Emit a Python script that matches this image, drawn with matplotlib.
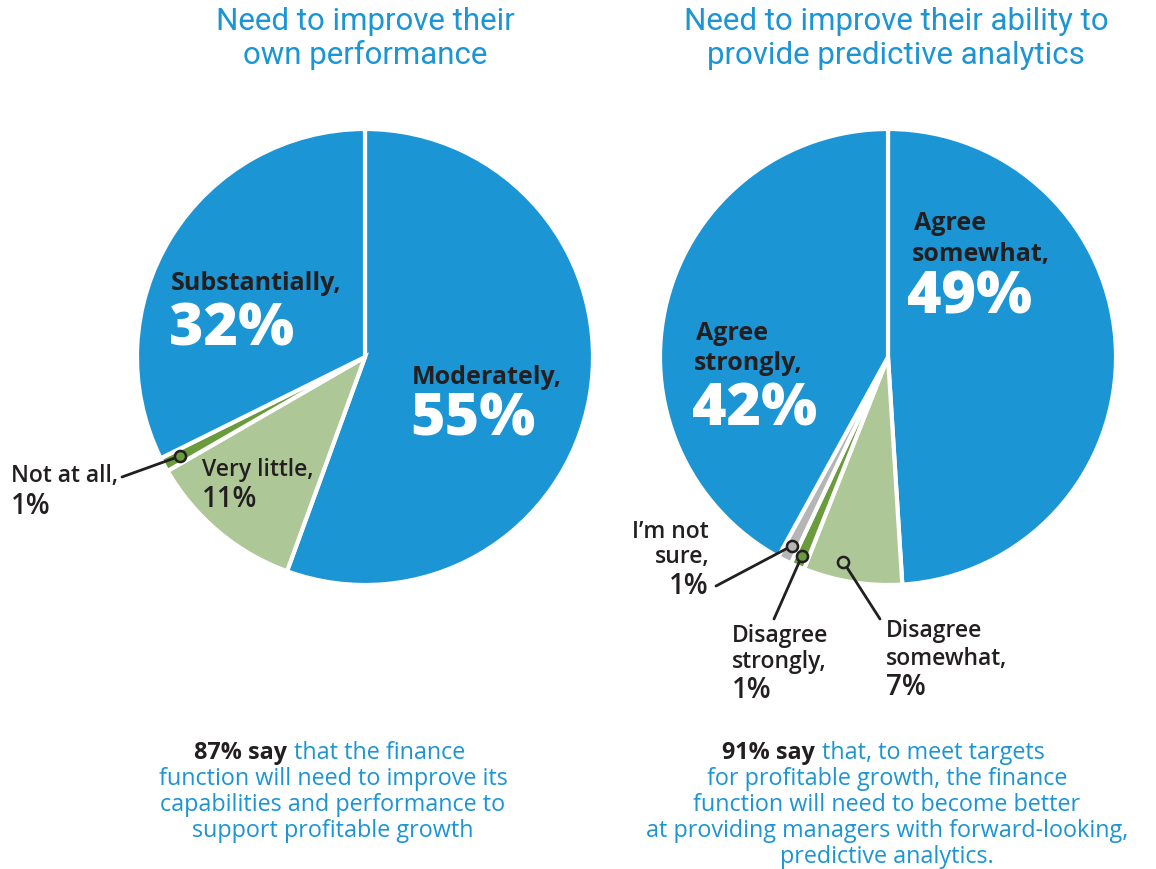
import numpy as np
import matplotlib
matplotlib.use('Agg')
from matplotlib import pyplot as plt

# --- data ---
left_labels = ['Moderately', 'Very little', 'Not at all', 'Substantially']
left_values = [55, 11, 1, 32]
right_labels = ['Agree somewhat', 'Disagree somewhat', 'Disagree strongly', "I'm not sure", 'Agree strongly']
right_values = [49, 7, 1, 1, 42]

BLUE = '#1b95d3'
LGREEN = '#aec797'
DGREEN = '#6a9b3c'
GREY = '#b5b5b5'
DARK = '#231f20'
left_colors = [BLUE, LGREEN, DGREEN, BLUE]
right_colors = [BLUE, LGREEN, DGREEN, GREY, BLUE]

W, H = 1156, 870
plt.rcParams['font.family'] = ['Open Sans', 'DejaVu Sans']
fig = plt.figure(figsize=(W / 100, H / 100), dpi=100)
fig.patch.set_facecolor('white')


def fp(x, y):
    return x / W, 1 - y / H


def pie_axes(cx, cy, r):
    return fig.add_axes([(cx - r) / W, (H - cy - r) / H, 2 * r / W, 2 * r / H])


def txt(x, y, s, size, color=DARK, weight='bold', ha='left', family=None):
    kw = {}
    if family:
        kw['family'] = family
    fig.text(*fp(x, y), s, fontsize=size, color=color, fontweight=weight,
             ha=ha, va='center', **kw)


def callout(ax, wedge, frac, tx, ty, color, t=0.5):
    # t: position across the wedge angle, frac: fraction of radius
    ang = np.deg2rad(wedge.theta1 + t * (wedge.theta2 - wedge.theta1))
    px, py = frac * np.cos(ang), frac * np.sin(ang)
    ax.annotate('', xy=(px, py), xytext=(tx, H - ty), textcoords='figure pixels',
                arrowprops=dict(arrowstyle='-', lw=2, color=DARK, shrinkA=0, shrinkB=4),
                annotation_clip=False)
    ax.plot(px, py, 'o', ms=8, mfc=color, mec=DARK, mew=1.8, clip_on=False, zorder=5)


axl = pie_axes(365, 358, 228)
wl, _ = axl.pie(left_values, colors=left_colors, startangle=90, counterclock=False,
                radius=1, wedgeprops=dict(edgecolor='white', linewidth=3))
axr = pie_axes(888, 358, 228)
wr, _ = axr.pie(right_values, colors=right_colors, startangle=90, counterclock=False,
                radius=1, wedgeprops=dict(edgecolor='white', linewidth=3))
for ax in (axl, axr):
    ax.set_xlim(-1, 1)
    ax.set_ylim(-1, 1)
    ax.axis('off')

# titles
tfam = ['Roboto', 'DejaVu Sans']
txt(365, 22, 'Need to improve their', 22.5, BLUE, 'normal', 'center', tfam)
txt(365, 55, 'own performance', 22.5, BLUE, 'normal', 'center', tfam)
txt(896, 22, 'Need to improve their ability to', 22.5, BLUE, 'normal', 'center', tfam)
txt(896, 55, 'provide predictive analytics', 22.5, BLUE, 'normal', 'center', tfam)

# left pie labels
txt(171, 284, 'Substantially,', 18)
txt(169, 330, '32%', 42.5, 'white', 'heavy')
txt(412, 378, 'Moderately,', 18)
txt(410, 420, '55%', 42.5, 'white', 'heavy')
txt(202, 470, 'Very little,', 16.5, weight='semibold')
txt(202, 500, '11%', 20, weight='semibold')
txt(11, 476, 'Not at all,', 16.5, weight='semibold')
txt(11, 506, '1%', 20, weight='semibold')
callout(axl, wl[2], 0.92, 122, 478, DGREEN)

# right pie labels
txt(914, 224, 'Agree', 18)
txt(912, 255, 'somewhat,', 18)
txt(907, 298, '49%', 42.5, 'white', 'heavy')
txt(696, 334, 'Agree', 18)
txt(694, 364, 'strongly,', 18)
txt(692, 410, '42%', 42.5, 'white', 'heavy')
txt(709, 532, 'I\u2019m not', 16.5, weight='semibold', ha='right')
txt(709, 557, 'sure,', 16.5, weight='semibold', ha='right')
txt(709, 587, '1%', 20, weight='semibold', ha='right')
txt(732, 636, 'Disagree', 16.5, weight='semibold')
txt(732, 662, 'strongly,', 16.5, weight='semibold')
txt(732, 690, '1%', 20, weight='semibold')
txt(886, 631, 'Disagree', 16.5, weight='semibold')
txt(886, 659, 'somewhat,', 16.5, weight='semibold')
txt(886, 688, '7%', 20, weight='semibold')
callout(axr, wr[3], 0.93, 716, 587, GREY)
callout(axr, wr[2], 0.95, 774, 620, DGREEN)
callout(axr, wr[1], 0.92, 880, 620, LGREEN, t=0.37)

# bottom notes
FS = 16.8
txt(287, 753, '87% say', FS, ha='right')
txt(294, 753, 'that the finance', FS, BLUE, 'normal')
for i, line in enumerate(['function will need to improve its',
                          'capabilities and performance to',
                          'support profitable growth']):
    txt(333, 779 + 26 * i, line, FS, BLUE, 'normal', 'center')

txt(815, 753, '91% say', FS, ha='right')
txt(822, 753, 'that, to meet targets', FS, BLUE, 'normal')
for i, line in enumerate(['for profitable growth, the finance',
                          'function will need to become better',
                          'at providing managers with forward-looking,',
                          'predictive analytics.']):
    txt(887, 779 + 26 * i, line, FS, BLUE, 'normal', 'center')

plt.savefig('out.png', dpi=100, facecolor='white')
plt.close()
